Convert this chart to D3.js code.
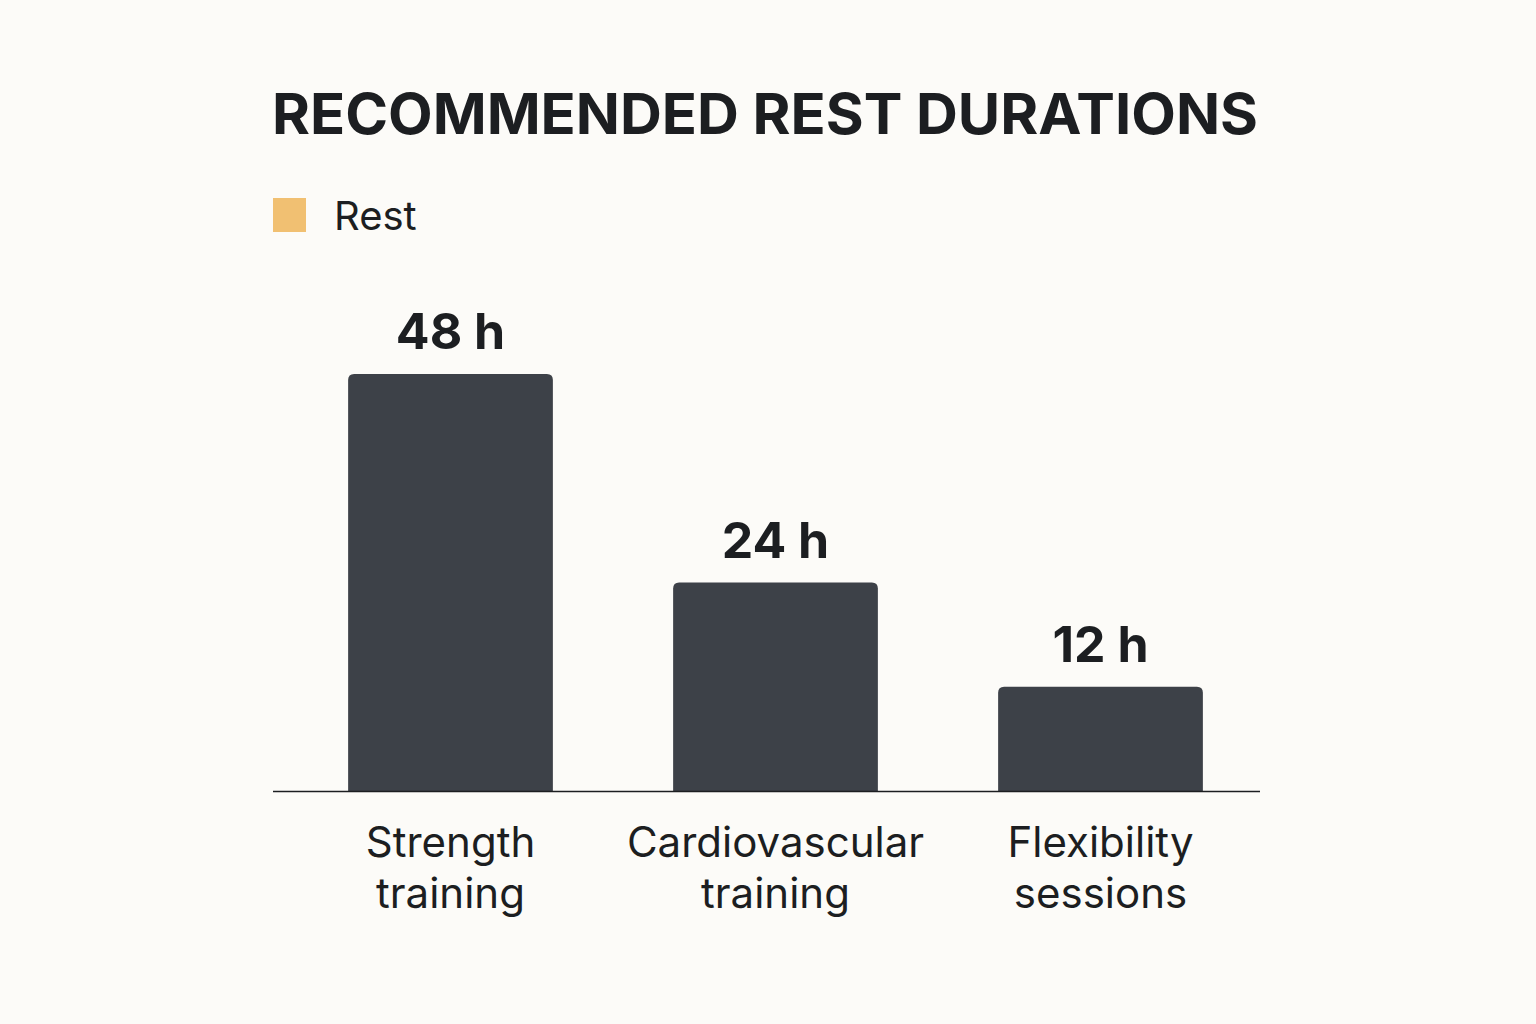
<!DOCTYPE html>
<html><head><meta charset="utf-8">
<script src="https://cdn.jsdelivr.net/npm/d3@7"></script>
<style>body{margin:0;background:#fcfbf8;}svg{display:block;font-family:Inter,"Noto Sans",sans-serif;}</style>
</head><body><svg id="c" width="1536" height="1024"></svg>
<script>
const categories = [["Strength","training"],["Cardiovascular","training"],["Flexibility","sessions"]];
const values = [48, 24, 12];
const valueLabels = ["48 h","24 h","12 h"];
const seriesName = "Rest";

const svg = d3.select("#c");
svg.append("rect").attr("width",1536).attr("height",1024).attr("fill","#fcfbf8");
const base = 791;
const x = d3.scaleBand().domain(d3.range(values.length)).range([288,1263]).paddingInner(0.37).paddingOuter(0.185);
const y = d3.scaleLinear().domain([0,48]).range([base, 374]);

svg.append("text").attr("x",272).attr("y",134).attr("font-size",57).attr("font-weight",700)
  .attr("fill","#1c1e21").attr("textLength",986).attr("lengthAdjust","spacingAndGlyphs").text("RECOMMENDED REST DURATIONS");
svg.append("rect").attr("x",273).attr("y",198).attr("width",33).attr("height",34).attr("fill","#f1c072");
svg.append("text").attr("x",334).attr("y",230).attr("font-size",40).attr("fill","#1c1e21").text(seriesName);

svg.selectAll(".bar").data(values).join("path").attr("fill","#3d4148")
  .attr("d",(d,i)=>{const x0=x(i),w=x.bandwidth(),y0=y(d),r=6;
    return `M${x0},${base}V${y0+r}Q${x0},${y0} ${x0+r},${y0}H${x0+w-r}Q${x0+w},${y0} ${x0+w},${y0+r}V${base}Z`;});
svg.selectAll(".vl").data(values).join("text").attr("x",(d,i)=>x(i)+x.bandwidth()/2).attr("y",d=>y(d)-25)
  .attr("text-anchor","middle").attr("font-size",50).attr("font-weight",700).attr("fill","#1c1e21")
  .text((d,i)=>valueLabels[i]);
svg.append("line").attr("x1",273).attr("x2",1260).attr("y1",base+0.5).attr("y2",base+0.5).attr("stroke","#1c1e21").attr("stroke-width",1.5);
categories.forEach((c,i)=>{
  const t=svg.append("text").attr("text-anchor","middle").attr("font-size",42).attr("fill","#1c1e21");
  c.forEach((l,j)=>t.append("tspan").attr("x",x(i)+x.bandwidth()/2).attr("y",857+j*51).text(l));
});
</script></body></html>
